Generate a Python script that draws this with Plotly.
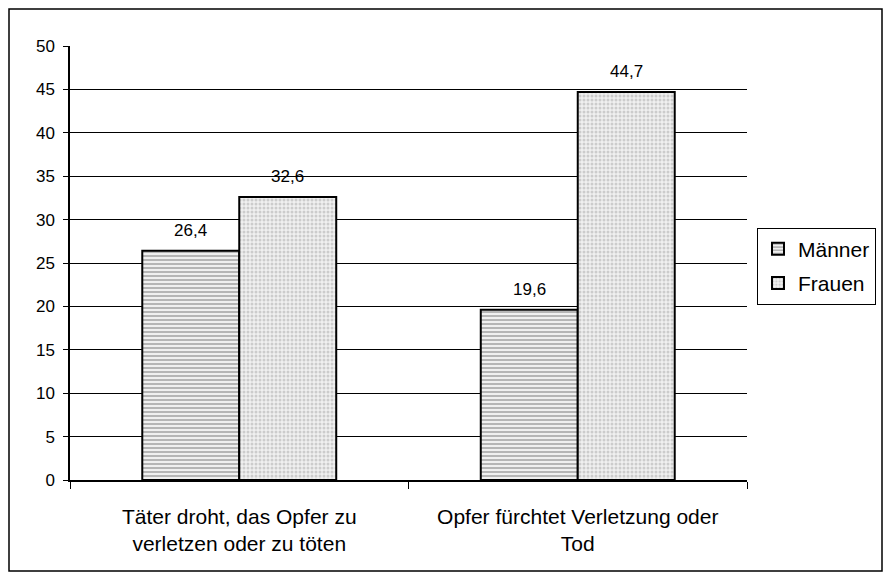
import plotly.graph_objects as go

categories = ["Täter droht, das Opfer zu<br>verletzen oder zu töten",
              "Opfer fürchtet Verletzung oder<br>Tod"]
maenner = [26.4, 19.6]
frauen = [32.6, 44.7]
series_names = ["Männer", "Frauen"]
y_ticks = [0, 5, 10, 15, 20, 25, 30, 35, 40, 45, 50]

FONT = "Liberation Sans, Arial"

fig = go.Figure()
fig.add_trace(go.Bar(
    name=series_names[0], x=categories, y=maenner, legendgroup="m",
    marker=dict(color="white", line=dict(color="black", width=2),
                pattern=dict(shape="-", fgcolor="#6e6e6e", bgcolor="white",
                             size=4, solidity=0.6)),
))
fig.add_trace(go.Bar(
    name=series_names[1], x=categories, y=frauen, legendgroup="f",
    marker=dict(color="#eeeeee", line=dict(color="black", width=2),
                pattern=dict(shape=".", fgcolor="#a8a8a8", bgcolor="#f0f0f0",
                             size=4, solidity=0.45)),
))

annotations = []
for vals, shift in ((maenner, -48.5), (frauen, 48.5)):
    for c, v in zip(categories, vals):
        annotations.append(dict(
            x=c, y=v, xref="x", yref="y", text=f"{v:.1f}".replace(".", ","),
            showarrow=False, yanchor="bottom", xshift=shift, yshift=9,
            font=dict(family=FONT, size=17, color="black")))

# plot area in pixels
L, R, T, B = 70, 747, 46, 480
W, H = R - L, B - T
def px_x(p):
    return (p - L) / W
def px_y(p):
    return (B - p) / H

fig.update_layout(
    width=885, height=580,
    margin=dict(l=L, r=885 - R, t=T, b=580 - B, autoexpand=False),
    paper_bgcolor="white", plot_bgcolor="white",
    barmode="group", bargap=0.427, bargroupgap=0,
    separators=",.",
    font=dict(family=FONT, color="black"),
    showlegend=True,
    legend=dict(x=px_x(757), y=0.493, xanchor="left", yanchor="middle",
                bordercolor="black", borderwidth=1, bgcolor="white",
                font=dict(size=21), itemwidth=30, tracegroupgap=4),
    xaxis=dict(type="category", showline=True, linecolor="black", linewidth=1.5,
               ticks="outside", ticklen=7, tickcolor="black", tickson="boundaries",
               tickfont=dict(size=21), ticklabelstandoff=17, showgrid=False),
    yaxis=dict(range=[0, 50], tickvals=y_ticks, showline=True, linecolor="black",
               linewidth=1.5, ticks="outside", ticklen=5, tickcolor="black",
               ticklabelstandoff=5,
               showgrid=True, gridcolor="black", gridwidth=1,
               tickfont=dict(size=17), zeroline=False),
    annotations=annotations,
    shapes=[dict(type="rect", xref="paper", yref="paper",
                 x0=px_x(9), x1=px_x(882), y0=px_y(571), y1=px_y(9),
                 line=dict(color="black", width=1.5), layer="below")],
)

fig.write_html("out.html", config={"displayModeBar": False},
               post_script="document.body.style.margin='0';")
